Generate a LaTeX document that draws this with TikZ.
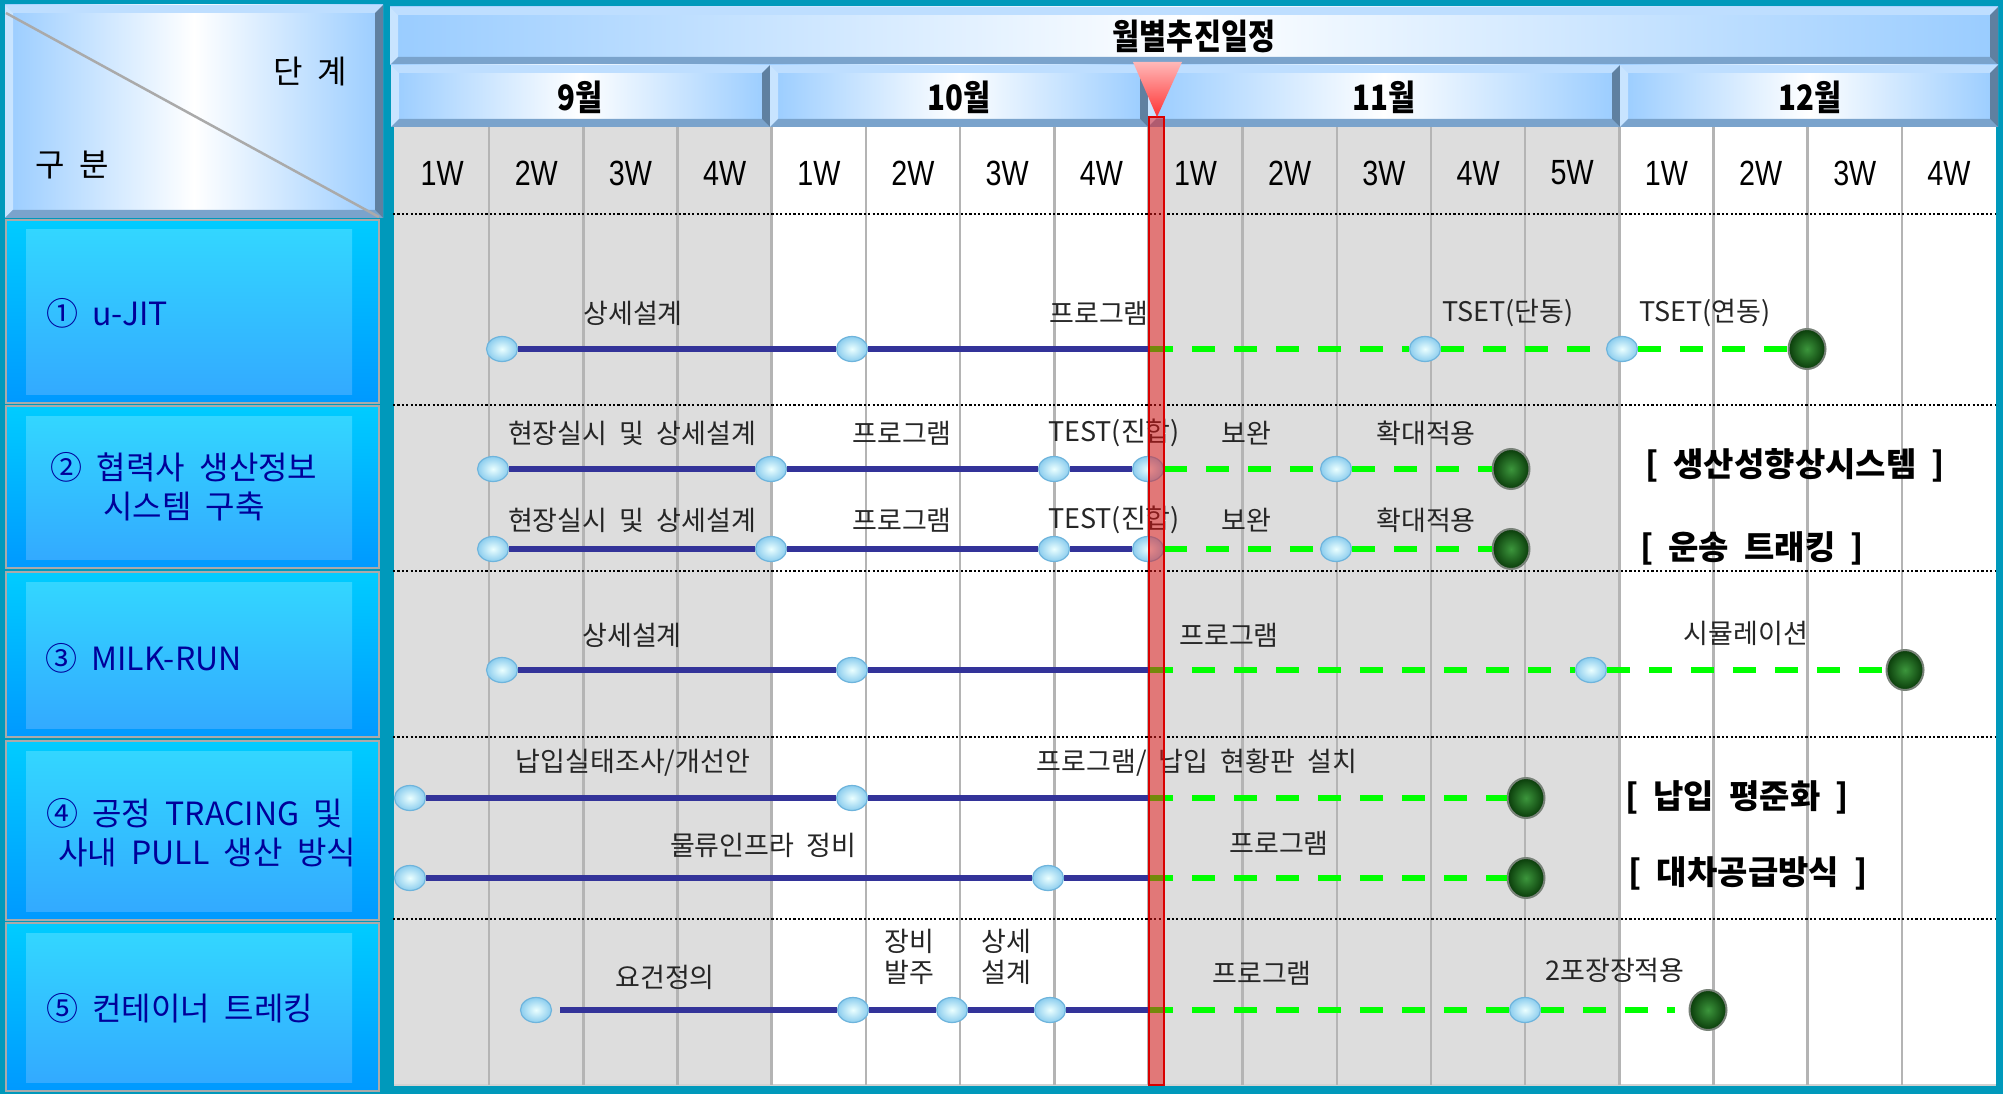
\documentclass[tikz,border=0pt]{standalone}
\usepackage{fontspec}
\setmainfont{Liberation Sans}
\newfontfamily\kr[WordSpace=2.0]{Noto Sans CJK KR}
\newfontfamily\krn[FakeStretch=0.84]{Noto Sans CJK KR}
\newfontfamily\wkf[FakeStretch=0.82]{Liberation Sans}
\usetikzlibrary{shapes.geometric}
\definecolor{teal0}{RGB}{0,153,187}
\definecolor{hb}{RGB}{153,204,255}
\definecolor{bvl}{RGB}{190,222,255}
\definecolor{bvll}{RGB}{200,228,255}
\definecolor{bvd}{RGB}{122,163,204}
\definecolor{bvr}{RGB}{95,128,160}
\definecolor{cellg}{RGB}{221,221,221}
\definecolor{vline}{RGB}{180,180,180}
\definecolor{navyl}{RGB}{51,51,153}
\definecolor{lblue}{RGB}{0,0,153}
\definecolor{gdash}{RGB}{0,255,0}
\definecolor{rbt}{RGB}{0,204,255}
\definecolor{rbb}{RGB}{0,153,255}
\definecolor{rit}{RGB}{51,214,255}
\definecolor{rib}{RGB}{51,170,255}
\definecolor{redge}{RGB}{170,170,170}
\definecolor{lcin}{RGB}{235,255,255}
\definecolor{lcout}{RGB}{140,205,238}
\definecolor{lcdraw}{RGB}{110,180,220}
\definecolor{dcin}{RGB}{60,150,60}
\definecolor{dcout}{RGB}{10,60,10}
\definecolor{dcdraw}{RGB}{120,130,120}
\definecolor{redfill}{RGB}{230,20,20}
\definecolor{triTop}{RGB}{255,184,184}
\definecolor{triBot}{RGB}{255,50,50}
\definecolor{diag}{RGB}{170,170,170}
\newcommand{\bevbox}[4]{%
  \shade[left color=hb, right color=hb, middle color=white] (#1,#2) rectangle (#3,#4);
  \fill[bvl] (#1,#2) -- (#3,#2) -- (#3-8,#2+8) -- (#1+8,#2+8) -- cycle;
  \fill[bvll] (#1,#2) -- (#1+8,#2+8) -- (#1+8,#4-8) -- (#1,#4) -- cycle;
  \fill[bvd] (#1,#4) -- (#1+8,#4-8) -- (#3-8,#4-8) -- (#3,#4) -- cycle;
  \fill[bvr] (#3,#2) -- (#3-8,#2+8) -- (#3-8,#4-8) -- (#3,#4) -- cycle;
}
\newcommand{\rowbox}[2]{%
  \shade[top color=rbt, bottom color=rbb] (6,#1) rectangle (379,#2);
  \draw[redge, line width=2pt] (6,#1) rectangle (379,#2);
  \shade[top color=rit, bottom color=rib] (26,#1+10) rectangle (352,#2-9);
}
\begin{document}
\begin{tikzpicture}[x=1pt,y=-1pt,
  lc/.style={ellipse, minimum width=31pt, minimum height=25pt, inner sep=0pt,
    inner color=lcin, outer color=lcout, draw=lcdraw, line width=1.2pt},
  dc/.style={ellipse, minimum width=37pt, minimum height=40pt, inner sep=0pt,
    inner color=dcin, outer color=dcout, draw=dcdraw, line width=2pt},
  bl/.style={draw=navyl, line width=6.5pt},
  gl/.style={draw=gdash, line width=6pt, dash pattern=on 23pt off 19pt},
  lab/.style={font=\kr\fontsize{27}{30}\selectfont, text=black!85, inner sep=0pt, align=center},
  big/.style={font=\kr\bfseries\fontsize{33}{38}\selectfont, text=black, inner sep=0pt},
  rowlab/.style={font=\kr\fontsize{32}{39}\selectfont, text=lblue, inner sep=0pt},
  wk/.style={font=\wkf\fontsize{35}{38}\selectfont, text=black, inner sep=0pt},
  mon/.style={font=\krn\bfseries\fontsize{35}{38}\selectfont, text=black, inner sep=0pt},
  hd/.style={font=\kr\fontsize{32}{36}\selectfont, text=black, inner sep=0pt},
  vl/.style={draw=vline, line width=2.5pt},
  sep/.style={draw=black, line width=2.2pt, dash pattern=on 2.2pt off 2.2pt}]
\useasboundingbox (0,0) rectangle (2003,1094);
\fill[teal0] (0,0) rectangle (2003,1094);

% grid background
\fill[white] (394,127) rectangle (1996,1085);
\fill[cellg] (394,127) rectangle (771.7,1085);
\fill[cellg] (1148.4,127) rectangle (1619.3,1085);
\draw[vline!60, line width=1.5pt] (394,1085) -- (1996,1085);
\foreach \k in {1,...,16} \draw[vl] (395+94.18*\k,127) -- (395+94.18*\k,1085);
\foreach \yy in {214,405,571,737,919} \draw[sep] (393,\yy) -- (1996,\yy);

% headers
\bevbox{5}{5}{383}{218}
\draw[diag, line width=2.5pt] (6,13) -- (379,217);
\node[hd] (dan) at (310,72) {단 계};
\node[hd] (gubun) at (72,165) {구 분};

\bevbox{390}{7}{1998}{65}
\node[mon] (plan) at (1194,36) {월별추진일정};
\bevbox{391}{65}{770}{127}
\bevbox{770}{65}{1148}{127}
\bevbox{1148}{65}{1620}{127}
\bevbox{1620}{65}{1998}{127}
\node[mon] (m9) at (580,97) {9월};
\node[mon] (m10) at (959,97) {10월};
\node[mon] (m11) at (1384,97) {11월};
\node[mon] (m12) at (1810,97) {12월};

\foreach \k/\t in {0/1W,1/2W,2/3W,3/4W,4/1W,5/2W,6/3W,7/4W,8/1W,9/2W,10/3W,11/4W,12/5W,13/1W,14/2W,15/3W,16/4W}
  \node[wk] (wk\k) at (395+94.18*\k+47.09,173) {\t};

% left row boxes
\rowbox{220}{403}
\rowbox{406}{568}
\rowbox{572}{737}
\rowbox{741}{920}
\rowbox{923}{1091}
\node[rowlab, anchor=west] (t1) at (46,313) {① u-JIT};
\node[rowlab, align=center] (t2) at (184,487) {② 협력사 생산정보\\시스템 구축};
\node[rowlab, anchor=west] (t3) at (45,658) {③ MILK-RUN};
\node[rowlab, anchor=west, align=left] (t4) at (46,833) {④ 공정 TRACING 및\\\hspace*{12pt}사내 PULL 생산 방식};
\node[rowlab, anchor=west] (t5) at (46,1008) {⑤ 컨테이너 트레킹};

% ---- labels
\node[lab] (l1a) at (633,313) {상세설계};
\node[lab] (l1b) at (1099,313) {프로그램};
\node[lab] (l1c) at (1508,313) {TSET(단동)};
\node[lab] (l1d) at (1705,313) {TSET(연동)};

\node[lab] (l2a) at (632,433) {현장실시 및 상세설계};
\node[lab] (l2b) at (902,433) {프로그램};
\node[lab] (l2c) at (1114,433) {TEST(진합)};
\node[lab] (l2d) at (1246,433) {보완};
\node[lab] (l2e) at (1426,433) {확대적용};
\node[big] (b2a) at (1795,465) {[ 생산성향상시스템 ]};

\node[lab] (l2f) at (632,520) {현장실시 및 상세설계};
\node[lab] (l2g) at (902,520) {프로그램};
\node[lab] (l2h) at (1114,520) {TEST(진합)};
\node[lab] (l2i) at (1246,520) {보완};
\node[lab] (l2j) at (1426,520) {확대적용};
\node[big] (b2b) at (1752,548) {[ 운송 트래킹 ]};

\node[lab] (l3a) at (632,635) {상세설계};
\node[lab] (l3b) at (1229,635) {프로그램};
\node[lab] (l3c) at (1746,633) {시뮬레이션};

\node[lab] (l4a) at (633,763) {납입실태조사/개선안};
\node[lab] (l4b) at (1197,763) {프로그램/ 납입 현황판 설치};
\node[big] (b4a) at (1737,797) {[ 납입 평준화 ]};
\node[lab] (l4c) at (763,845) {물류인프라 정비};
\node[lab] (l4d) at (1279,843) {프로그램};
\node[big] (b4b) at (1748,873) {[ 대차공급방식 ]};

\node[lab] (l5a) at (665,977) {요건정의};
\node[lab, font=\kr\fontsize{27}{31}\selectfont] (l5b) at (909,957) {장비\\발주};
\node[lab, font=\kr\fontsize{27}{31}\selectfont] (l5c) at (1006,957) {상세\\설계};
\node[lab] (l5d) at (1262,973) {프로그램};
\node[lab] (l5e) at (1615,970) {2포장장적용};

% ---- milestones and bars
% row 1
\node[lc] (r1a) at (502,349) {};
\node[lc] (r1b) at (852,349) {};
\coordinate (r1m) at (1150,349);
\node[lc] (r1c) at (1425,349) {};
\node[lc] (r1d) at (1622,349) {};
\node[dc] (r1e) at (1807,349) {};
\draw[bl] (r1a) -- (r1b);
\draw[bl] (r1b) -- (r1m);
\draw[gl] (r1m) -- (r1c);
\draw[gl] (r1c) -- (r1d);
\draw[gl] (r1d) -- (r1e);
% row 2a
\node[lc] (r2a) at (493,469) {};
\node[lc] (r2b) at (771,469) {};
\node[lc] (r2c) at (1054,469) {};
\node[lc] (r2d) at (1148,469) {};
\node[lc] (r2e) at (1336,469) {};
\node[dc] (r2f) at (1511,469) {};
\draw[bl] (r2a) -- (r2b);
\draw[bl] (r2b) -- (r2c);
\draw[bl] (r2c) -- (r2d);
\draw[gl] (r2d) -- (r2e);
\draw[gl] (r2e) -- (r2f);
% row 2b
\node[lc] (r2g) at (493,549) {};
\node[lc] (r2h) at (771,549) {};
\node[lc] (r2i) at (1054,549) {};
\node[lc] (r2j) at (1148,549) {};
\node[lc] (r2k) at (1336,549) {};
\node[dc] (r2l) at (1511,549) {};
\draw[bl] (r2g) -- (r2h);
\draw[bl] (r2h) -- (r2i);
\draw[bl] (r2i) -- (r2j);
\draw[gl] (r2j) -- (r2k);
\draw[gl] (r2k) -- (r2l);
% row 3
\node[lc] (r3a) at (502,670) {};
\node[lc] (r3b) at (852,670) {};
\coordinate (r3m) at (1150,670);
\node[lc] (r3c) at (1591,670) {};
\node[dc] (r3d) at (1905,670) {};
\draw[bl] (r3a) -- (r3b);
\draw[bl] (r3b) -- (r3m);
\draw[gl] (r3m) -- (r3c);
\draw[gl] (r3c) -- (r3d);
% row 4a
\node[lc] (r4a) at (410,798) {};
\node[lc] (r4b) at (852,798) {};
\coordinate (r4m) at (1150,798);
\node[dc] (r4c) at (1526,798) {};
\draw[bl] (r4a) -- (r4b);
\draw[bl] (r4b) -- (r4m);
\draw[gl] (r4m) -- (r4c);
% row 4b
\node[lc] (r4d) at (410,878) {};
\node[lc] (r4e) at (1048,878) {};
\coordinate (r4n) at (1150,878);
\node[dc] (r4f) at (1526,878) {};
\draw[bl] (r4d) -- (r4e);
\draw[bl] (r4e) -- (r4n);
\draw[gl] (r4n) -- (r4f);
% row 5
\node[lc] (r5a) at (536,1010) {};
\node[lc] (r5b) at (853,1010) {};
\node[lc] (r5c) at (952,1010) {};
\node[lc] (r5d) at (1050,1010) {};
\coordinate (r5m) at (1150,1010);
\node[lc] (r5e) at (1525,1010) {};
\node[dc] (r5f) at (1708,1010) {};
\draw[bl, shorten <=8pt] (r5a) -- (r5b);
\draw[bl] (r5b) -- (r5c);
\draw[bl] (r5c) -- (r5d);
\draw[bl] (r5d) -- (r5m);
\draw[gl] (r5m) -- (r5e);
\draw[gl, shorten >=14pt] (r5e) -- (r5f);

% red today bar and marker
\fill[redfill, fill opacity=0.5] (1149,117) rectangle (1164,1085);
\draw[red!85!black, line width=2pt] (1149,117) rectangle (1164,1085);
\shade[top color=triTop, bottom color=triBot] (1133,62) -- (1182,62) -- (1157,117) -- cycle;
\end{tikzpicture}
\end{document}
